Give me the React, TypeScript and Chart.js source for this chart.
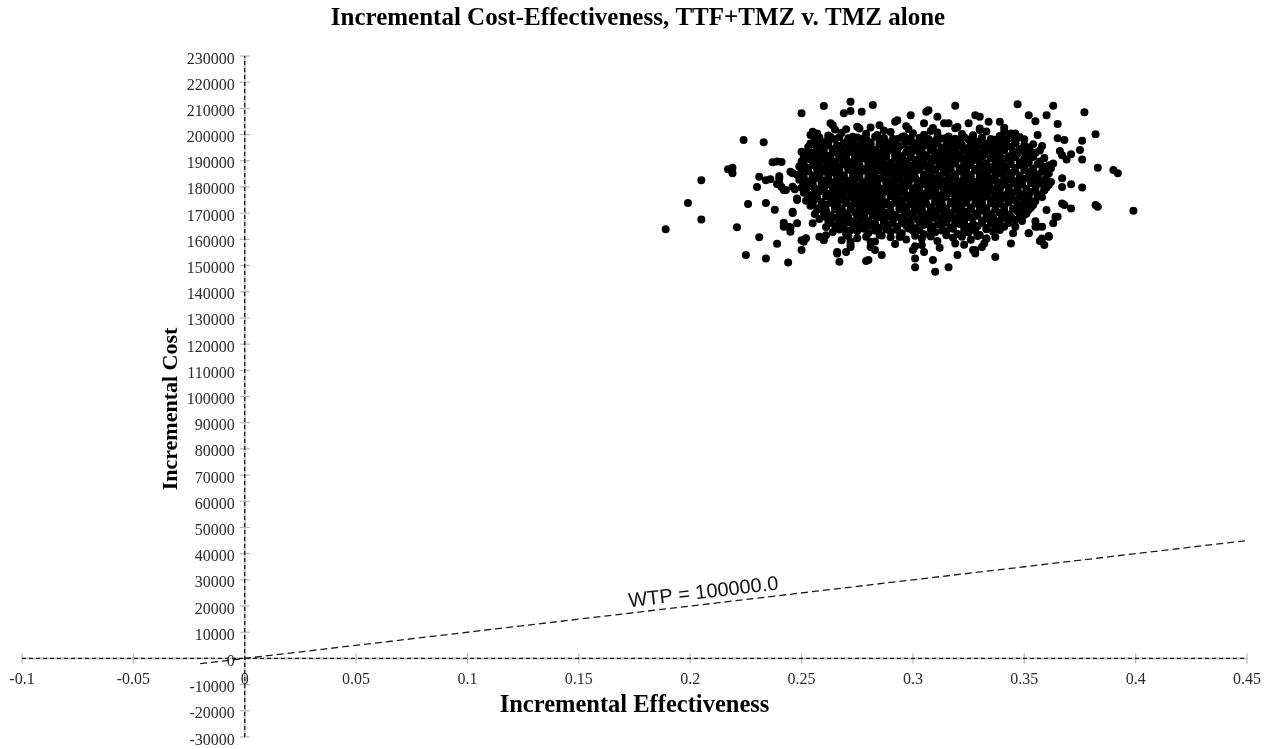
import React, { useEffect, useRef } from "react";
import { Chart, registerables } from "chart.js";

Chart.register(...registerables);

const chartTitle = "Incremental Cost-Effectiveness, TTF+TMZ v. TMZ alone";
const xAxisTitle = "Incremental Effectiveness";
const yAxisTitle = "Incremental Cost";

const xTicks = [-0.1, -0.05, 0, 0.05, 0.1, 0.15, 0.2, 0.25, 0.3, 0.35, 0.4, 0.45];
const xTickLabels = ["-0.1", "-0.05", "0", "0.05", "0.1", "0.15", "0.2", "0.25", "0.3", "0.35", "0.4", "0.45"];
const yTicks = [
  -30000, -20000, -10000, 0, 10000, 20000, 30000, 40000, 50000, 60000, 70000, 80000, 90000,
  100000, 110000, 120000, 130000, 140000, 150000, 160000, 170000, 180000, 190000, 200000,
  210000, 220000, 230000,
];

const wtpValue = 100000;
const wtpLabel = "WTP = 100000.0";
const wtpLineX = [-0.02, 0.45];
const wtpLineY = [-2000, 45000];

// Monte Carlo samples: [incremental effectiveness, incremental cost]
const simulations: [number, number][] = [
  // dense core, read row by row
  [0.262,199600],[0.268,200700],[0.273,199200],[0.279,200300],[0.284,199800],[0.290,201000],[0.296,199400],[0.300,200500],[0.305,199900],[0.311,200800],[0.316,199300],[0.322,200200],[0.327,199700],[0.333,201200],[0.339,199500],[0.344,200400],
  [0.265,201900],[0.276,202300],[0.287,201600],[0.298,202100],[0.308,201400],[0.319,202400],[0.330,201700],[0.341,201300],
  [0.258,198900],[0.262,198500],[0.267,199100],[0.271,198600],[0.275,198900],[0.279,198400],[0.283,199200],[0.287,198700],[0.291,198300],[0.295,199000],[0.299,198600],[0.303,198800],[0.307,198300],[0.311,199100],[0.315,198700],[0.319,198400],[0.323,199000],[0.327,198500],[0.331,198900],[0.335,198300],[0.339,198800],[0.343,198600],[0.348,199000],
  [0.256,197900],[0.260,197100],[0.265,198200],[0.269,196800],[0.273,197600],[0.277,198400],[0.281,197000],[0.285,197800],[0.289,196900],[0.293,198300],[0.297,197300],[0.301,196700],[0.305,198000],[0.309,197400],[0.313,198500],[0.317,196900],[0.321,197700],[0.325,198100],[0.329,197200],[0.333,196600],[0.337,198000],[0.341,197500],[0.346,196900],[0.350,198200],
  [0.255,196300],[0.259,196000],[0.262,196500],[0.266,195900],[0.270,196400],[0.274,196100],[0.277,196600],[0.281,196000],[0.285,196300],[0.289,195900],[0.292,196500],[0.296,196200],[0.300,195800],[0.304,196400],[0.307,196100],[0.311,196600],[0.315,195900],[0.319,196300],[0.322,196000],[0.326,196500],[0.330,196200],[0.334,195800],[0.338,196400],[0.342,196100],[0.346,196600],[0.350,196000],[0.354,196300],
  [0.253,195300],[0.257,194600],[0.261,195800],[0.264,194400],[0.268,195100],[0.272,195900],[0.276,194700],[0.279,195400],[0.283,194200],[0.287,195700],[0.291,194900],[0.294,195500],[0.298,194300],[0.302,195200],[0.306,195900],[0.309,194600],[0.313,195000],[0.317,194100],[0.321,195600],[0.324,194800],[0.328,195300],[0.332,194400],[0.336,195800],[0.340,194900],[0.344,195400],[0.348,194500],[0.352,195100],
  [0.253,193800],[0.257,193500],[0.260,194000],[0.264,193400],[0.268,193900],[0.271,193600],[0.275,194100],[0.279,193500],[0.282,193800],[0.286,193400],[0.290,194000],[0.293,193700],[0.297,193300],[0.301,193900],[0.304,193600],[0.308,194100],[0.312,193400],[0.315,193800],[0.319,193500],[0.323,194000],[0.326,193700],[0.330,193300],[0.334,193900],[0.337,193600],[0.341,194100],[0.345,193500],[0.349,193800],[0.353,193400],[0.357,193900],
  [0.251,192200],[0.255,193100],[0.259,192600],[0.262,191800],[0.266,192900],[0.270,192300],[0.273,193300],[0.277,192000],[0.281,192700],[0.284,191900],[0.288,193000],[0.292,192400],[0.295,191700],[0.299,192800],[0.303,193200],[0.306,192100],[0.310,192600],[0.314,191900],[0.317,193100],[0.321,192500],[0.325,191800],[0.328,192900],[0.332,192200],[0.336,193000],[0.339,192400],[0.343,191700],[0.347,192800],[0.351,192300],[0.355,193100],
  [0.252,191300],[0.256,191000],[0.259,191500],[0.263,190900],[0.267,191400],[0.270,191100],[0.274,191600],[0.277,191000],[0.281,191300],[0.285,190900],[0.288,191500],[0.292,191200],[0.295,190800],[0.299,191400],[0.303,191100],[0.306,191600],[0.310,190900],[0.313,191300],[0.317,191000],[0.320,191500],[0.324,191200],[0.328,190800],[0.331,191400],[0.335,191100],[0.338,191600],[0.342,191000],[0.346,191300],[0.350,190900],[0.354,191400],[0.359,191100],
  [0.250,189700],[0.254,190500],[0.257,189300],[0.261,190200],[0.265,189600],[0.268,190800],[0.272,189400],[0.275,190100],[0.279,190700],[0.283,189500],[0.286,190300],[0.290,189200],[0.293,190600],[0.297,189800],[0.301,190400],[0.304,189300],[0.308,190900],[0.311,189900],[0.315,190200],[0.319,189400],[0.322,190700],[0.326,189600],[0.329,190300],[0.333,189100],[0.337,190500],[0.340,189800],[0.344,190600],[0.348,189400],[0.352,190100],[0.357,189700],
  [0.251,188800],[0.255,188500],[0.258,189000],[0.262,188400],[0.265,188900],[0.269,188600],[0.273,189100],[0.276,188500],[0.280,188800],[0.283,188400],[0.287,189000],[0.290,188700],[0.294,188300],[0.297,188900],[0.301,188600],[0.305,189100],[0.308,188400],[0.312,188800],[0.315,188500],[0.319,189000],[0.323,188700],[0.326,188300],[0.330,188900],[0.333,188600],[0.337,189100],[0.340,188500],[0.344,188800],[0.348,188400],[0.352,189000],[0.356,188700],[0.361,188300],
  [0.249,187800],[0.253,187100],[0.256,188200],[0.260,187400],[0.263,186800],[0.267,187900],[0.271,187200],[0.274,188300],[0.278,186900],[0.281,187600],[0.285,188100],[0.288,187000],[0.292,187700],[0.296,186700],[0.299,188200],[0.303,187300],[0.306,187900],[0.310,186800],[0.313,187500],[0.317,188300],[0.321,187100],[0.324,187800],[0.328,186900],[0.331,188000],[0.335,187400],[0.338,186800],[0.342,187900],[0.346,187200],[0.350,188100],[0.354,187000],[0.359,187600],
  [0.250,186300],[0.253,186000],[0.257,186500],[0.260,185900],[0.264,186400],[0.267,186100],[0.271,186600],[0.275,186000],[0.278,186300],[0.282,185900],[0.285,186500],[0.289,186200],[0.292,185800],[0.296,186400],[0.299,186100],[0.303,186600],[0.307,185900],[0.310,186300],[0.314,186000],[0.317,186500],[0.321,186200],[0.324,185800],[0.328,186400],[0.332,186100],[0.335,186600],[0.339,186000],[0.342,186300],[0.346,185900],[0.350,186500],[0.354,186200],[0.358,185800],
  [0.248,184700],[0.251,185400],[0.255,184300],[0.258,185800],[0.262,184900],[0.265,185300],[0.269,184400],[0.273,185700],[0.276,184800],[0.280,185200],[0.283,184200],[0.287,185600],[0.290,184900],[0.294,185400],[0.297,184500],[0.301,185900],[0.305,184700],[0.308,185100],[0.312,184300],[0.315,185500],[0.319,184800],[0.322,185800],[0.326,184600],[0.330,185200],[0.333,184400],[0.337,185700],[0.340,184900],[0.344,185300],[0.348,184200],[0.352,185600],[0.356,184800],[0.361,185100],
  [0.251,183800],[0.255,183500],[0.258,184000],[0.262,183400],[0.266,183900],[0.269,183600],[0.273,184100],[0.276,183500],[0.280,183800],[0.284,183400],[0.287,184000],[0.291,183700],[0.294,183300],[0.298,183900],[0.301,183600],[0.305,184100],[0.309,183400],[0.312,183800],[0.316,183500],[0.319,184000],[0.323,183700],[0.326,183300],[0.330,183900],[0.334,183600],[0.337,184100],[0.341,183500],[0.344,183800],[0.348,183400],[0.352,184000],[0.356,183700],[0.360,183300],
  [0.249,182800],[0.253,182100],[0.256,183200],[0.260,182400],[0.264,181800],[0.267,182900],[0.271,182300],[0.274,183300],[0.278,181900],[0.282,182700],[0.285,183100],[0.289,182000],[0.292,182600],[0.296,181700],[0.299,183000],[0.303,182300],[0.307,182900],[0.310,181800],[0.314,182500],[0.317,183200],[0.321,182100],[0.324,182700],[0.328,181900],[0.332,183000],[0.335,182400],[0.339,181700],[0.342,182800],[0.346,182200],[0.350,183100],[0.354,182000],[0.358,182600],[0.362,181900],
  [0.251,181300],[0.255,181000],[0.259,181500],[0.262,180900],[0.266,181400],[0.270,181100],[0.273,181600],[0.277,181000],[0.280,181300],[0.284,180900],[0.288,181500],[0.291,181200],[0.295,180800],[0.298,181400],[0.302,181100],[0.306,181600],[0.309,180900],[0.313,181300],[0.316,181000],[0.320,181500],[0.323,181200],[0.327,180800],[0.331,181400],[0.334,181100],[0.338,181600],[0.341,181000],[0.345,181300],[0.349,180900],[0.353,181500],[0.357,181200],[0.361,180800],
  [0.250,179700],[0.254,180400],[0.257,179200],[0.261,180800],[0.264,179900],[0.268,180300],[0.272,179400],[0.275,180600],[0.279,179800],[0.282,180200],[0.286,179300],[0.289,180700],[0.293,179900],[0.297,180400],[0.300,179500],[0.304,180900],[0.307,179700],[0.311,180100],[0.315,179300],[0.318,180500],[0.322,179800],[0.325,180800],[0.329,179600],[0.333,180200],[0.336,179400],[0.340,180700],[0.343,179900],[0.347,180300],[0.351,179200],[0.355,180600],[0.360,179800],
  [0.252,178800],[0.256,178500],[0.260,179000],[0.264,178400],[0.267,178900],[0.271,178600],[0.274,179100],[0.278,178500],[0.282,178800],[0.285,178400],[0.289,179000],[0.292,178700],[0.296,178300],[0.300,178900],[0.303,178600],[0.307,179100],[0.310,178400],[0.314,178800],[0.318,178500],[0.321,179000],[0.325,178700],[0.328,178300],[0.332,178900],[0.336,178600],[0.339,179100],[0.343,178500],[0.347,178800],[0.351,178400],[0.355,179000],[0.359,178700],
  [0.251,177800],[0.255,177100],[0.258,178200],[0.262,177400],[0.266,176800],[0.269,177900],[0.273,177200],[0.276,178300],[0.280,176900],[0.284,177600],[0.287,178100],[0.291,177000],[0.294,177700],[0.298,176700],[0.302,178200],[0.305,177300],[0.309,177900],[0.312,176800],[0.316,177500],[0.320,178300],[0.323,177100],[0.327,177800],[0.330,176900],[0.334,178000],[0.338,177400],[0.341,176800],[0.345,177900],[0.349,177200],[0.353,178100],[0.357,177000],
  [0.253,176300],[0.257,176000],[0.261,176500],[0.265,175900],[0.268,176400],[0.272,176100],[0.275,176600],[0.279,176000],[0.283,176300],[0.286,175900],[0.290,176500],[0.293,176200],[0.297,175800],[0.301,176400],[0.304,176100],[0.308,176600],[0.311,175900],[0.315,176300],[0.319,176000],[0.322,176500],[0.326,176200],[0.329,175800],[0.333,176400],[0.337,176100],[0.340,176600],[0.344,176000],[0.348,176300],[0.352,175900],[0.356,176500],
  [0.252,174700],[0.256,175400],[0.259,174300],[0.263,175800],[0.267,174900],[0.270,175300],[0.274,174400],[0.277,175700],[0.281,174800],[0.285,175200],[0.288,174200],[0.292,175600],[0.295,174900],[0.299,175400],[0.303,174500],[0.306,175900],[0.310,174700],[0.313,175100],[0.317,174300],[0.321,175500],[0.324,174800],[0.328,175800],[0.331,174600],[0.335,175200],[0.339,174400],[0.342,175700],[0.346,174900],[0.350,175300],[0.355,174600],
  [0.255,173800],[0.259,173500],[0.263,174000],[0.266,173400],[0.270,173900],[0.274,173600],[0.277,174100],[0.281,173500],[0.284,173800],[0.288,173400],[0.292,174000],[0.295,173700],[0.299,173300],[0.302,173900],[0.306,173600],[0.310,174100],[0.313,173400],[0.317,173800],[0.320,173500],[0.324,174000],[0.328,173700],[0.331,173300],[0.335,173900],[0.339,173600],[0.343,174100],[0.347,173500],[0.351,173800],[0.354,173400],
  [0.254,172800],[0.258,172100],[0.261,173200],[0.265,172400],[0.268,171800],[0.272,172900],[0.276,172300],[0.279,173300],[0.283,171900],[0.286,172700],[0.290,173100],[0.294,172000],[0.297,172600],[0.301,171700],[0.304,173000],[0.308,172300],[0.312,172900],[0.315,171800],[0.319,172500],[0.322,173200],[0.326,172100],[0.330,172700],[0.333,171900],[0.337,173000],[0.341,172400],[0.345,171700],[0.349,172800],[0.353,172200],
  [0.257,171300],[0.261,171000],[0.265,171500],[0.268,170900],[0.272,171400],[0.276,171100],[0.279,171600],[0.283,171000],[0.286,171300],[0.290,170900],[0.294,171500],[0.297,171200],[0.301,170800],[0.304,171400],[0.308,171100],[0.312,171600],[0.315,170900],[0.319,171300],[0.322,171000],[0.326,171500],[0.330,171200],[0.333,170800],[0.337,171400],[0.341,171100],[0.345,171600],[0.349,171000],[0.352,171300],
  [0.256,169700],[0.260,170400],[0.263,169200],[0.267,170800],[0.270,169900],[0.274,170300],[0.278,169400],[0.281,170600],[0.285,169800],[0.288,170200],[0.292,169300],[0.296,170700],[0.299,169900],[0.303,170400],[0.306,169500],[0.310,170900],[0.314,169700],[0.317,170100],[0.321,169300],[0.324,170500],[0.328,169800],[0.332,170800],[0.335,169600],[0.339,170200],[0.343,169400],[0.347,170700],[0.351,169900],
  [0.260,168800],[0.264,168500],[0.267,169000],[0.271,168400],[0.275,168900],[0.278,168600],[0.282,169100],[0.286,168500],[0.289,168800],[0.293,168400],[0.296,169000],[0.300,168700],[0.304,168300],[0.307,168900],[0.311,168600],[0.314,169100],[0.318,168400],[0.322,168800],[0.325,168500],[0.329,169000],[0.333,168700],[0.336,168300],[0.340,168900],[0.344,168600],[0.348,169100],
  [0.258,167800],[0.262,167100],[0.266,168200],[0.269,167400],[0.273,166800],[0.277,167900],[0.280,167200],[0.284,168300],[0.287,166900],[0.291,167600],[0.295,168100],[0.298,167000],[0.302,167700],[0.305,166700],[0.309,168200],[0.313,167300],[0.316,167900],[0.320,166800],[0.323,167500],[0.327,168300],[0.331,167100],[0.334,167800],[0.338,166900],[0.342,168000],[0.346,167400],
  [0.263,166300],[0.267,166000],[0.271,166500],[0.275,165900],[0.279,166400],[0.283,166100],[0.287,166600],[0.291,166000],[0.295,166300],[0.299,165900],[0.303,166500],[0.307,166200],[0.311,165800],[0.315,166400],[0.319,166100],[0.323,166600],[0.327,165900],[0.331,166300],[0.335,166000],[0.339,166500],[0.343,166200],
  [0.261,164700],[0.265,165400],[0.269,164300],[0.273,165800],[0.277,164900],[0.281,165300],[0.285,164400],[0.289,165700],[0.293,164800],[0.297,165200],[0.301,164200],[0.305,165600],[0.309,164900],[0.313,165400],[0.317,164500],[0.321,165900],[0.325,164700],[0.329,165100],[0.333,164300],[0.337,165500],[0.341,164800],
  [0.267,163800],[0.272,163500],[0.278,164000],[0.283,163400],[0.288,163900],[0.293,163600],[0.298,164100],[0.303,163500],[0.308,163800],[0.313,163400],[0.318,164000],[0.323,163700],[0.328,163300],[0.333,163900],[0.339,163600],
  [0.264,162800],[0.270,162100],[0.275,163200],[0.280,162400],[0.285,161800],[0.290,162900],[0.295,162300],[0.300,163300],[0.305,161900],[0.310,162700],[0.315,163100],[0.320,162000],[0.325,162600],[0.330,161700],[0.336,163000],
  [0.271,161300],[0.279,161000],[0.286,161500],[0.294,160900],[0.301,161400],[0.308,161100],[0.315,161600],[0.322,161000],[0.329,161300],[0.337,160900],
  [0.268,159700],[0.275,160400],[0.283,159200],[0.290,160800],[0.297,159900],[0.304,160300],[0.311,159400],[0.318,160600],[0.326,159800],[0.333,160200],
  [0.272,157800],[0.281,157100],[0.292,158200],[0.301,157400],[0.312,156800],[0.323,157900],
  // left tail
  [0.189,163900],[0.199,173900],[0.205,167600],[0.205,182600],[0.217,186800],[0.219,187300],[0.219,185200],[0.221,164600],[0.224,197900],[0.225,154000],
  [0.226,173500],[0.230,180000],[0.231,183900],[0.231,160800],[0.233,197100],[0.234,152700],[0.234,173900],[0.234,182600],[0.236,182900],[0.238,171300],
  [0.237,189400],[0.239,189700],[0.239,181100],[0.239,158300],[0.240,184100],[0.241,180000],[0.241,189500],[0.244,151200],[0.245,185800],[0.246,170500],
  [0.247,179100],[0.248,175600],[0.248,175000],[0.242,178800],[0.246,170100],[0.242,166300],[0.242,164800],[0.245,164600],[0.248,166100],[0.251,159100],
  [0.252,160400],[0.250,155900],[0.246,185200],[0.240,183300],[0.240,181400],[0.243,178800],[0.246,180100],[0.244,164800],[0.245,162900],[0.250,159700],
  [0.251,191500],[0.250,193400],[0.252,192800],[0.255,166100],[0.258,161000],[0.260,159700],[0.261,161600],[0.266,164800],
  // top edge
  [0.250,208100],[0.260,210900],[0.272,212500],[0.269,208100],[0.272,209000],[0.277,208700],[0.282,211300],[0.263,204300],[0.264,203600],[0.275,203000],
  [0.281,202700],[0.285,203600],[0.292,204900],[0.255,201100],[0.257,200400],[0.263,199100],[0.254,196600],[0.258,196000],[0.254,199800],
  [0.319,211000],[0.347,211600],[0.306,208700],[0.307,209300],[0.299,207400],[0.293,205500],[0.311,206800],[0.328,207400],[0.330,206800],[0.334,204900],
  [0.339,204900],[0.325,204300],[0.314,204300],[0.316,204300],[0.305,204300],[0.346,200400],[0.340,199100],[0.346,197900],
  [0.297,203200],[0.309,202500],[0.320,202900],[0.330,202300],[0.270,202000],[0.341,202600],
  // right tail
  [0.363,211000],[0.377,208500],[0.352,207400],[0.355,205100],[0.360,207400],[0.365,204000],[0.356,199800],[0.382,200100],[0.365,198600],[0.368,197900],
  [0.376,197600],[0.358,195600],[0.375,194100],[0.366,193700],[0.367,192100],[0.369,190500],[0.371,192500],[0.376,190500],[0.383,187300],[0.390,186500],
  [0.392,185200],[0.367,183300],[0.371,181000],[0.376,179800],[0.367,180000],[0.367,173700],[0.368,173100],[0.371,171800],[0.382,173100],[0.383,172400],
  [0.399,170900],[0.356,164800],[0.358,164800],[0.361,161300],[0.357,159400],[0.359,157800],
  [0.363,189000],[0.362,187100],[0.358,188000],[0.360,181400],[0.359,178800],[0.358,176200],[0.365,168600],[0.364,168600],[0.360,171200],[0.363,166100],
  [0.352,162300],[0.346,164800],[0.345,162300],[0.344,158400],[0.348,194100],[0.355,184500],[0.354,173100],[0.350,169300],[0.355,166900],[0.349,167000],
  [0.352,162300],[0.355,164800],[0.358,160300],[0.361,161000],[0.328,155900],[0.331,157100],
  // bottom edge
  [0.266,155200],[0.267,151400],[0.279,151700],[0.286,154000],[0.310,147600],[0.316,149300],[0.301,149300],[0.301,152700],[0.300,155900],[0.309,152100],
  [0.319,158400],[0.320,154000],[0.327,155900],[0.328,154600],[0.337,153300],[0.270,155200],[0.272,157100],[0.272,159100],[0.281,159100],[0.283,155900],
  [0.304,157800],[0.305,155200],[0.332,158400],[0.333,160300],[0.266,154600],[0.280,152100],
];

const crossAxesPlugin = {
  id: "crossAxes",
  beforeDatasetsDraw(chart: any) {
    const { ctx, scales } = chart;
    const xs = scales.x;
    const ys = scales.y;
    const x0 = xs.getPixelForValue(0);
    const y0 = ys.getPixelForValue(0);
    const xl = xs.getPixelForValue(xTicks[0]);
    const xr = xs.getPixelForValue(xTicks[xTicks.length - 1]);
    const yb = ys.getPixelForValue(yTicks[0]);
    const yt = ys.getPixelForValue(yTicks[yTicks.length - 1]);
    const seg = (a: number, b: number, c: number, d: number) => {
      ctx.beginPath();
      ctx.moveTo(a, b);
      ctx.lineTo(c, d);
      ctx.stroke();
    };
    ctx.save();
    ctx.strokeStyle = "#b4b4b4";
    ctx.lineWidth = 1.5;
    seg(xl, y0, xr, y0);
    seg(x0, yb, x0, yt);
    ctx.lineWidth = 1.2;
    xTicks.forEach((v) => {
      const px = xs.getPixelForValue(v);
      seg(px, y0 - 5, px, y0 + 5);
    });
    yTicks.forEach((v) => {
      const py = ys.getPixelForValue(v);
      seg(x0 - 5, py, x0 + 5, py);
    });
    ctx.strokeStyle = "#1a1a1a";
    ctx.lineWidth = 1.3;
    ctx.setLineDash([4, 3]);
    seg(xl, y0, xr, y0);
    seg(x0, yb, x0, yt);
    ctx.setLineDash([]);

    ctx.fillStyle = "#2a2a2a";
    ctx.font = '16px "Liberation Serif", "Times New Roman", serif';
    ctx.textAlign = "center";
    ctx.textBaseline = "alphabetic";
    xTicks.forEach((v, i) => {
      ctx.fillText(xTickLabels[i], xs.getPixelForValue(v), y0 + 26);
    });
    ctx.textAlign = "right";
    yTicks.forEach((v) => {
      ctx.fillText(String(v), x0 - 10, ys.getPixelForValue(v) + 7.5);
    });
    ctx.restore();
  },
  afterDatasetsDraw(chart: any) {
    const { ctx, scales, chartArea } = chart;
    const xs = scales.x;
    const ys = scales.y;
    ctx.save();
    ctx.fillStyle = "#000";
    ctx.textAlign = "center";
    ctx.textBaseline = "middle";
    ctx.font = 'bold 25px "Liberation Serif", "Times New Roman", serif';
    ctx.fillText(chartTitle, 638, 19);
    ctx.font = 'bold 24.5px "Liberation Serif", "Times New Roman", serif';
    ctx.fillText(xAxisTitle, (chartArea.left + chartArea.right) / 2, 706);
    ctx.save();
    ctx.font = 'bold 22px "Liberation Serif", "Times New Roman", serif';
    ctx.translate(171, 409);
    ctx.rotate(-Math.PI / 2);
    ctx.fillText(yAxisTitle, 0, 0);
    ctx.restore();

    // WTP label along the threshold line
    const ax = xs.getPixelForValue(wtpLineX[0]);
    const ay = ys.getPixelForValue(wtpLineY[0]);
    const bx = xs.getPixelForValue(wtpLineX[1]);
    const by = ys.getPixelForValue(wtpLineY[1]);
    const ang = Math.atan2(by - ay, bx - ax);
    const lx = 0.173;
    const px = xs.getPixelForValue(lx);
    const py = ys.getPixelForValue(lx * wtpValue);
    ctx.translate(px, py);
    ctx.rotate(ang);
    ctx.font = '20px "Liberation Sans", Arial, sans-serif';
    ctx.fillStyle = "#111";
    ctx.textAlign = "left";
    ctx.textBaseline = "alphabetic";
    ctx.fillText(wtpLabel, 0, -6);
    ctx.restore();
  },
};

export default function App() {
  const canvasRef = useRef<HTMLCanvasElement | null>(null);

  useEffect(() => {
    document.body.style.margin = "0";
    const canvas = canvasRef.current;
    if (!canvas) return;
    const chart = new Chart(canvas, {
      type: "scatter",
      data: {
        datasets: [
          {
            type: "scatter",
            label: "Simulations",
            data: simulations.map(([x, y]) => ({ x, y })),
            backgroundColor: "#000",
            borderColor: "#000",
            borderWidth: 0,
            pointRadius: 4,
            pointHoverRadius: 4,
          },
          {
            type: "line",
            label: "WTP",
            data: wtpLineX.map((x, i) => ({ x, y: wtpLineY[i] })),
            borderColor: "#1a1a1a",
            borderWidth: 1.3,
            borderDash: [7, 4],
            pointRadius: 0,
            fill: false,
            tension: 0,
          } as any,
        ],
      },
      options: {
        animation: false,
        responsive: false,
        layout: { padding: { left: 22, right: 28, top: 56, bottom: 12 } },
        plugins: {
          legend: { display: false },
          tooltip: { enabled: false },
          title: { display: false },
        },
        scales: {
          x: { type: "linear", min: -0.1, max: 0.45, display: false },
          y: { type: "linear", min: -30000, max: 230000, display: false },
        },
      },
      plugins: [crossAxesPlugin],
    });
    return () => chart.destroy();
  }, []);

  return (
    <div style={{ width: 1275, height: 749 }}>
      <canvas ref={canvasRef} width={1275} height={749} style={{ display: "block" }} />
    </div>
  );
}
